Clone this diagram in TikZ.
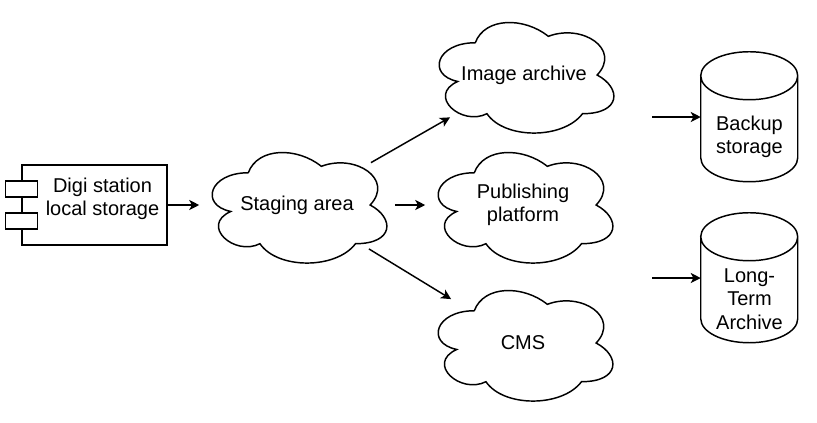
\documentclass[tikz,border=0pt]{standalone}
\usepackage{fontspec}
\setmainfont{Liberation Sans}
\usetikzlibrary{shapes.geometric,arrows.meta,calc}
\newcommand\mycloudshape[1]{%
  \draw[outline, shift={(#1.center)}, x=146.25pt, y=-96.75pt]
    (-0.25,-0.25) .. controls (-0.45,-0.25) and (-0.5,0) .. (-0.34,0.05)
    .. controls (-0.5,0.16) and (-0.32,0.4) .. (-0.19,0.3)
    .. controls (-0.1,0.5) and (0.2,0.5) .. (0.3,0.3)
    .. controls (0.5,0.3) and (0.5,0.1) .. (0.375,0)
    .. controls (0.5,-0.2) and (0.3,-0.4) .. (0.125,-0.3)
    .. controls (0,-0.45) and (-0.2,-0.45) .. (-0.25,-0.25) -- cycle;}
\newcommand\mycylshape[1]{%
  \draw[outline, shift={(#1.north west)}]
    (0,24) .. controls (0,10.75) and (21.7,0) .. (48.5,0)
    .. controls (75.3,0) and (97,10.75) .. (97,24)
    .. controls (97,37.25) and (75.3,48) .. (48.5,48)
    .. controls (21.7,48) and (0,37.25) .. (0,24) -- cycle
    (0,24) -- (0,106) .. controls (0,119.25) and (21.7,130) .. (48.5,130)
    .. controls (75.3,130) and (97,119.25) .. (97,106) -- (97,24);}
\begin{document}
\begin{tikzpicture}[x=0.75pt,y=-0.75pt,
  outline/.style={line width=1.1pt, draw=black},
  lbl/.style={font=\fontsize{15}{17.5}\selectfont, align=center, inner sep=0pt},
  cloudnode/.style={ellipse, minimum width=146.25pt, minimum height=96.75pt, inner sep=0pt, lbl},
  cylnode/.style={rectangle, minimum width=72.75pt, minimum height=97.5pt, inner sep=0pt},
  compbox/.style={rectangle, draw, line width=1.1pt, minimum width=108.75pt, minimum height=60pt, inner sep=0pt},
  arr/.style={line width=1.1pt, -{Stealth[length=7.5pt, width=7.5pt, inset=2pt]}}]
\useasboundingbox (0,0) rectangle (817,422);
% component box
\node[compbox] (digi) at (94.5,205) {};
\draw[outline, fill=white] ($(digi.west)+(-16,-24)$) rectangle +(32,16);
\draw[outline, fill=white] ($(digi.west)+(-16,8)$) rectangle +(32,16);
\node[lbl] (digitxt) at (102.5,198.5) {Digi station\\local storage};
% clouds
\node[cloudnode] (stage) at (297,205) {Staging area};
\node[cloudnode] (img) at (524,75) {Image archive};
\node[cloudnode] (pub) at (523,205) {Publishing\\platform};
\node[cloudnode] (cms) at (523,343) {CMS};
\mycloudshape{stage}
\mycloudshape{img}
\mycloudshape{pub}
\mycloudshape{cms}
% cylinders
\node[cylnode] (bk) at (749.5,117) {};
\node[cylnode] (lt) at (749.5,278) {};
\mycylshape{bk}
\mycylshape{lt}
\node[lbl] (bktxt) at ($(bk.center)+(0,20)$) {Backup\\storage};
\node[lbl] (lttxt) at ($(lt.center)+(0,21)$) {Long-\\Term\\Archive};
% connectors
\draw[arr] (digi) -- (stage);
\draw[arr] (stage) -- (img);
\draw[arr] (stage) -- (pub);
\draw[arr] (stage) -- (cms);
\coordinate (bkin) at (652,117);
\coordinate (ltin) at (652,278);
\draw[arr] (bkin) -- (bk);
\draw[arr] (ltin) -- (lt);
\end{tikzpicture}
\end{document}
